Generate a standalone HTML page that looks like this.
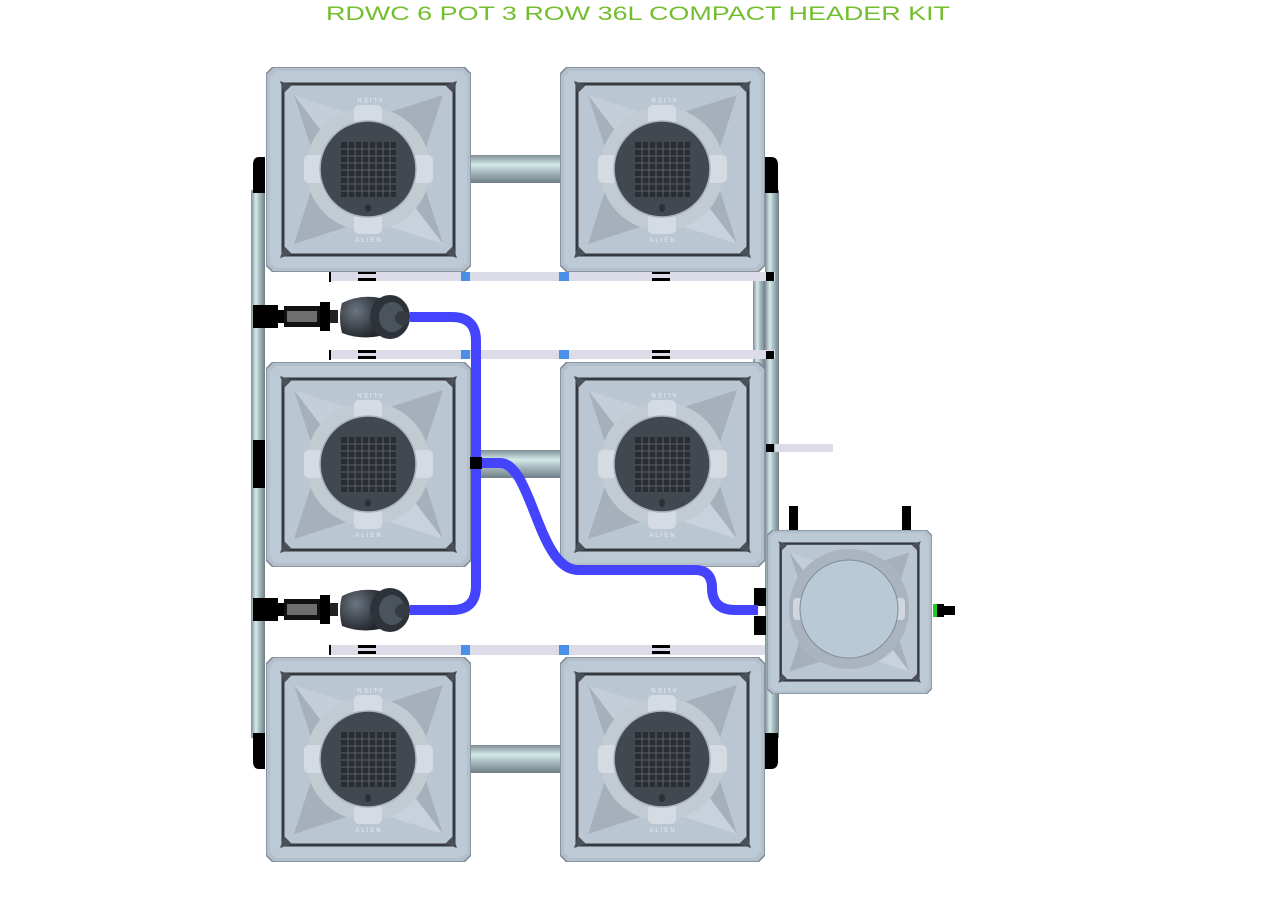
<!DOCTYPE html>
<html><head><meta charset="utf-8"><style>
html,body{margin:0;padding:0;background:#fff;}
svg{display:block;}
</style></head><body>
<svg width="1277" height="906" viewBox="0 0 1277 906" xmlns="http://www.w3.org/2000/svg">
<defs>
<linearGradient id="hp" x1="0" y1="0" x2="0" y2="1">
<stop offset="0" stop-color="#7e8d95"/><stop offset="0.35" stop-color="#d4ebea"/><stop offset="0.6" stop-color="#a9bcc0"/><stop offset="1" stop-color="#6f7e86"/></linearGradient>
<linearGradient id="vp" x1="0" y1="0" x2="1" y2="0">
<stop offset="0" stop-color="#7e8d95"/><stop offset="0.35" stop-color="#d4ebea"/><stop offset="0.6" stop-color="#a9bcc0"/><stop offset="1" stop-color="#6f7e86"/></linearGradient>
<radialGradient id="pb" cx="0.4" cy="0.35" r="0.7"><stop offset="0" stop-color="#6b7480"/><stop offset="1" stop-color="#24282e"/></radialGradient>
<symbol id="base" viewBox="0 0 205 205" width="205" height="205">
<polygon points="7,0 198,0 205,7 205,198 198,205 7,205 0,198 0,7" fill="#b3c0cc" stroke="#7a8591" stroke-width="1.5"/>
<polygon points="10,4 195,4 201,10 201,195 195,201 10,201 4,195 4,10" fill="#bccad6"/>
<rect x="17" y="17" width="171" height="171" fill="#bac7d2" stroke="#353a40" stroke-width="3"/>
<polygon points="28,28 102,52 177,28 153,102 177,177 102,153 28,177 52,102" fill="#a6b0ba"/>
<polygon points="28,28 102,52 60,70" fill="#c4ced8"/>
<polygon points="177,177 102,153 145,135" fill="#c8d2dc"/>
<path d="M14,14 l12,4 -8,8z M191,14 l-12,4 8,8z M14,191 l12,-4 -8,-8z M191,191 l-12,-4 8,-8z" fill="#4a5058"/>
</symbol>
<symbol id="pot" viewBox="0 0 205 205" width="205" height="205">
<use href="#base"/>
<circle cx="102" cy="102" r="62" fill="#c2cad2"/>
<rect x="88" y="38" width="28" height="20" rx="5" fill="#d4dbe2"/>
<rect x="88" y="147" width="28" height="20" rx="5" fill="#d4dbe2"/>
<rect x="38" y="88" width="20" height="28" rx="5" fill="#d4dbe2"/>
<rect x="147" y="88" width="20" height="28" rx="5" fill="#d4dbe2"/>
<circle cx="102" cy="102" r="48" fill="#41484f" stroke="#aab3bb" stroke-width="1.5"/>
<rect x="75" y="75" width="55" height="55" fill="#2a2e33"/>
<path d="M75,82h55M75,89h55M75,96h55M75,103h55M75,110h55M75,117h55M75,124h55M82,75v55M89,75v55M96,75v55M103,75v55M110,75v55M117,75v55M124,75v55" stroke="#5a6068" stroke-width="1"/>
<ellipse cx="102" cy="141" rx="3" ry="4" fill="#2c3136"/>
</symbol>
</defs>

<text x="638" y="20" text-anchor="middle" font-family="Liberation Sans, sans-serif" font-size="19" fill="#73be2e" textLength="624" lengthAdjust="spacingAndGlyphs">RDWC 6 POT 3 ROW 36L COMPACT HEADER KIT</text>

<!-- vertical pipes -->
<rect x="251" y="190" width="14" height="548" fill="url(#vp)"/>
<rect x="765" y="190" width="14" height="548" fill="url(#vp)"/>
<rect x="753" y="280" width="12" height="160" fill="url(#vp)"/>
<path d="M265,157 h-6 q-6,0 -6,8 v28 h12z" fill="#000"/>
<rect x="253" y="440" width="12" height="48" fill="#000"/>
<path d="M265,733 h-12 v28 q0,8 6,8 h6z" fill="#000"/>
<path d="M765,157 h6 q7,0 7,8 v28 h-13z" fill="#000"/>
<path d="M765,733 h13 v28 q0,8 -7,8 h-6z" fill="#000"/>

<!-- horizontal pipes -->
<rect x="470" y="155" width="92" height="28" fill="url(#hp)"/>
<rect x="470" y="450" width="92" height="28" fill="url(#hp)"/>
<rect x="470" y="745" width="92" height="28" fill="url(#hp)"/>

<!-- rails -->
<rect x="330" y="272" width="445" height="9" fill="#dcdce8"/>
<rect x="330" y="350" width="445" height="9" fill="#dcdce8"/>
<rect x="330" y="645" width="435" height="10" fill="#dcdce8"/>
<rect x="775" y="444" width="58" height="8" fill="#dcdce8"/>
<rect x="329" y="272" width="2" height="10" fill="#000"/>
<rect x="329" y="350" width="2" height="10" fill="#000"/>
<rect x="329" y="645" width="2" height="10" fill="#000"/>
<g fill="#4a90e8">
<rect x="461" y="272" width="9" height="9"/><rect x="559" y="272" width="10" height="9"/>
<rect x="461" y="350" width="9" height="9"/><rect x="559" y="350" width="10" height="9"/>
<rect x="461" y="645" width="9" height="10"/><rect x="559" y="645" width="10" height="10"/>
</g>
<g fill="#000">
<rect x="358" y="271" width="18" height="3"/><rect x="358" y="278" width="18" height="3"/>
<rect x="652" y="271" width="18" height="3"/><rect x="652" y="278" width="18" height="3"/>
<rect x="358" y="350" width="18" height="3"/><rect x="358" y="356" width="18" height="3"/>
<rect x="652" y="350" width="18" height="3"/><rect x="652" y="356" width="18" height="3"/>
<rect x="358" y="645" width="18" height="3"/><rect x="358" y="651" width="18" height="3"/>
<rect x="652" y="645" width="18" height="3"/><rect x="652" y="651" width="18" height="3"/>
<rect x="766" y="272" width="8" height="9"/><rect x="766" y="351" width="8" height="8"/><rect x="766" y="444" width="8" height="8"/>
</g>

<!-- pots -->
<use href="#pot" x="266" y="67"/>
<use href="#pot" x="560" y="67"/>
<use href="#pot" x="266" y="362"/>
<use href="#pot" x="560" y="362"/>
<use href="#pot" x="266" y="657"/>
<use href="#pot" x="560" y="657"/>
<g font-family="Liberation Sans, sans-serif" font-size="6" fill="#e8eef3" text-anchor="middle" letter-spacing="2">
<text x="369" y="242">ALIEN</text><text x="663" y="242">ALIEN</text>
<text x="369" y="537">ALIEN</text><text x="663" y="537">ALIEN</text>
<text x="369" y="832">ALIEN</text><text x="663" y="832">ALIEN</text>
<text x="850" y="687">ALIEN</text>
<g transform="rotate(180 369 100)"><text x="369" y="102">ALIEN</text></g>
<g transform="rotate(180 663 100)"><text x="663" y="102">ALIEN</text></g>
<g transform="rotate(180 369 395)"><text x="369" y="397">ALIEN</text></g>
<g transform="rotate(180 663 395)"><text x="663" y="397">ALIEN</text></g>
<g transform="rotate(180 369 690)"><text x="369" y="692">ALIEN</text></g>
<g transform="rotate(180 663 690)"><text x="663" y="692">ALIEN</text></g>
<g transform="rotate(180 850 541)"><text x="850" y="543">ALIEN</text></g>
</g>

<!-- reservoir -->
<rect x="789" y="506" width="9" height="24" fill="#000"/>
<rect x="902" y="506" width="9" height="24" fill="#000"/>
<g transform="translate(767,530) scale(0.805 0.8)"><use href="#base"/></g>
<circle cx="849" cy="609" r="60" fill="#aab4be"/>
<rect x="838" y="560" width="22" height="16" rx="4" fill="#cfd6dd"/>
<rect x="838" y="642" width="22" height="16" rx="4" fill="#cfd6dd"/>
<rect x="793" y="598" width="14" height="22" rx="4" fill="#cfd6dd"/>
<rect x="891" y="598" width="14" height="22" rx="4" fill="#cfd6dd"/>
<circle cx="849" cy="609" r="49" fill="#b9c9d6" stroke="#7f8c98" stroke-width="1"/>
<rect x="933" y="604" width="4" height="13" fill="#22cc22"/>
<rect x="937" y="604" width="7" height="13" fill="#000"/>
<rect x="944" y="606" width="11" height="9" fill="#000"/>
<rect x="754" y="588" width="12" height="18" fill="#000"/>
<rect x="754" y="616" width="12" height="19" fill="#000"/>

<!-- tubes -->
<g fill="none" stroke="#4444ff" stroke-width="10">
<path d="M410,317 H452 Q476,317 476,341 V586 Q476,610 452,610 H410"/>
<path d="M476,463 H500 C532,463 538,570 578,570 H695 Q712,570 712,588 Q712,610 735,610 H758"/>
</g>
<rect x="470" y="457" width="12" height="12" fill="#000"/>

<!-- pumps -->
<g id="p1">
<rect x="253" y="305" width="25" height="23" fill="#000"/>
<rect x="278" y="310" width="6" height="13" fill="#000"/>
<rect x="284" y="306" width="36" height="21" fill="#111"/>
<rect x="287" y="311" width="30" height="11" fill="#6e6e6e"/>
<rect x="320" y="302" width="10" height="29" fill="#000"/>
<rect x="330" y="310" width="8" height="13" fill="#222"/>
<path d="M342,303 Q338,317 342,333 Q360,340 380,336 L380,298 Q360,294 342,303z" fill="url(#pb)"/>
<ellipse cx="390" cy="317" rx="20" ry="22" fill="#2e3339"/>
<ellipse cx="392" cy="317" rx="13" ry="15" fill="#4b535c"/>
<circle cx="402" cy="318" r="7" fill="#363b41"/>
</g>
<use href="#p1" y="293"/>
</svg>
</body></html>
